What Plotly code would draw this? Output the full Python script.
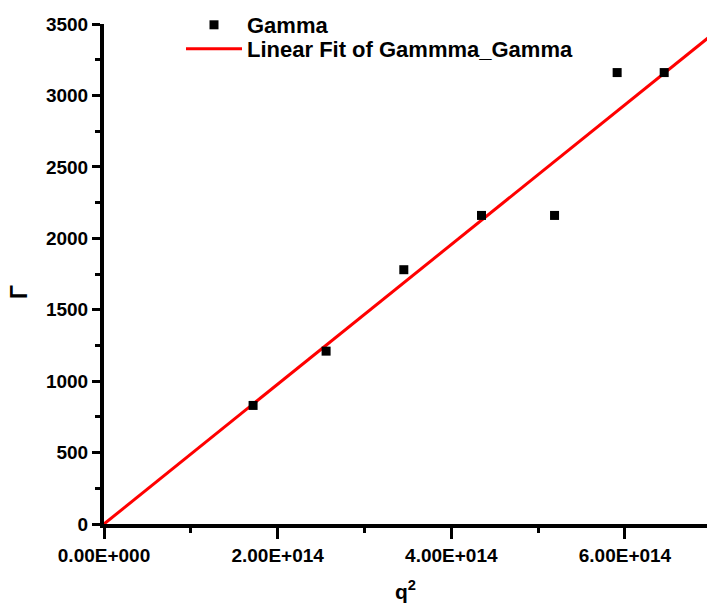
import numpy as np
import plotly.graph_objects as go

# Measured decay rate versus squared scattering vector
q2 = [1.717e14, 2.558e14, 3.453e14, 4.348e14, 5.189e14, 5.910e14, 6.452e14]
gamma = [830, 1210, 1780, 2160, 2160, 3160, 3160]

x_tickvals = [0, 2e14, 4e14, 6e14]
x_ticktext = ["0.00E+000", "2.00E+014", "4.00E+014", "6.00E+014"]

X_MAX = 6.945e14
Y_MAX = 3500

# Linear fit through the origin (least squares)
xa = np.array(q2)
ya = np.array(gamma)
slope = float((xa * ya).sum() / (xa * xa).sum())
fit_x = [0.0, 7.2e14]
fit_y = [slope * v for v in fit_x]

W, H = 707, 603
L, R, T, B = 104, 0, 24, 79
PW, PH = W - L - R, H - T - B


def px_x(px):
    return (px - L) / PW


def px_y(py):
    return (H - B - py) / PH


FONT = "Liberation Sans, Arial, sans-serif"

fig = go.Figure()

fig.add_trace(go.Scatter(
    x=fit_x, y=fit_y, mode="lines", name="Linear Fit of Gammma_Gamma",
    line=dict(color="#ff0000", width=3), legend="legend2",
))
fig.add_trace(go.Scatter(
    x=q2, y=gamma, mode="markers", name="Gamma",
    marker=dict(symbol="square", size=9, color="black", line=dict(width=0)),
    legend="legend",
))

axis_common = dict(
    showgrid=False, zeroline=False, showline=True, linecolor="black",
    linewidth=4, ticks="outside", tickcolor="black", tickwidth=3,
    tickfont=dict(family=FONT, size=19, color="black", weight="bold"),
)

fig.update_xaxes(
    range=[0, X_MAX], tickmode="array", tickvals=x_tickvals, ticktext=x_ticktext,
    ticklen=11, tickangle=0,
    minor=dict(ticks="outside", ticklen=5, tickwidth=3, tickcolor="black",
               tickmode="linear", tick0=0, dtick=1e14),
    **axis_common,
)
fig.update_yaxes(
    range=[0, Y_MAX], tickmode="linear", tick0=0, dtick=500, ticklen=8,
    minor=dict(ticks="outside", ticklen=5, tickwidth=3, tickcolor="black",
               tickmode="linear", tick0=0, dtick=250),
    **axis_common,
)

legend_font = dict(family=FONT, size=22, color="black", weight="bold")
fig.update_layout(
    width=W, height=H,
    margin=dict(l=L, r=R, t=T, b=B, pad=0, autoexpand=False),
    paper_bgcolor="white", plot_bgcolor="white",
    showlegend=True,
    legend=dict(
        x=px_x(181), y=px_y(4),
        xanchor="left", yanchor="top", bgcolor="rgba(0,0,0,0)",
        borderwidth=0, font=legend_font, itemwidth=56,
    ),
    legend2=dict(
        x=px_x(181), y=px_y(28),
        xanchor="left", yanchor="top", bgcolor="rgba(0,0,0,0)",
        borderwidth=0, font=legend_font, itemwidth=56,
    ),
    annotations=[
        dict(text="Γ", xref="paper", yref="paper", x=px_x(19),
             y=px_y(292), showarrow=False, textangle=-90,
             font=dict(family=FONT, size=23, color="black", weight="bold"),
             xanchor="center", yanchor="middle"),
        dict(text="q<sup>2</sup>", xref="paper", yref="paper", x=0.5,
             y=px_y(590), showarrow=False,
             font=dict(family=FONT, size=21, color="black", weight="bold"),
             xanchor="center", yanchor="middle"),
    ],
)

fig.write_html("out.html")
